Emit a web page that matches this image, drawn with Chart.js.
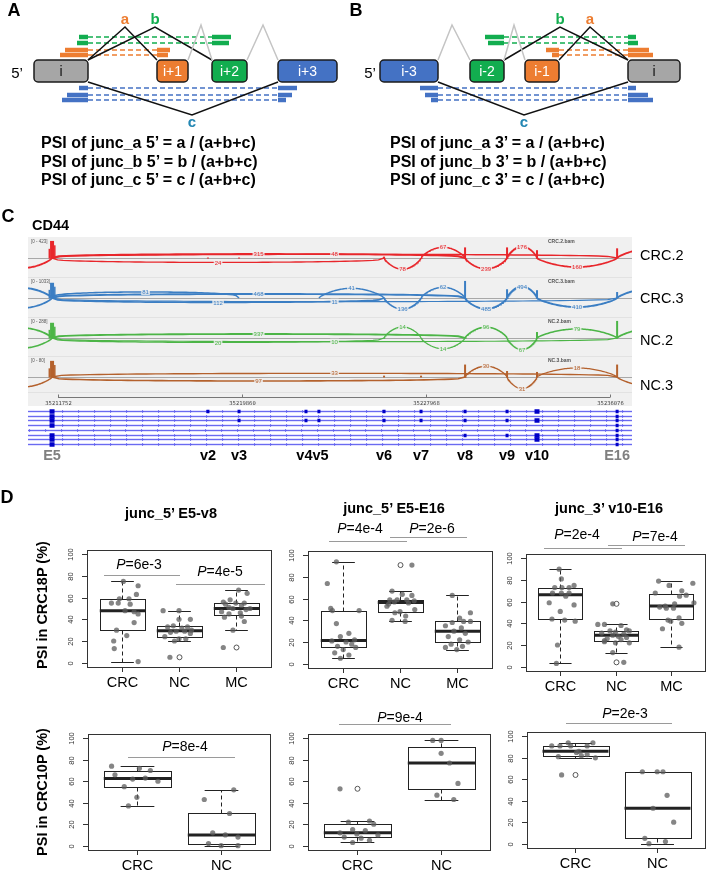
<!DOCTYPE html>
<html><head><meta charset="utf-8">
<script src="https://cdn.jsdelivr.net/npm/chart.js@4.4.1/dist/chart.umd.min.js"></script>
<style>
html,body{margin:0;padding:0;background:#fff}
body{width:709px;height:875px;position:relative;overflow:hidden;font-family:"Liberation Sans",Arial,Helvetica,sans-serif}
canvas{position:absolute;left:0;top:0}
.t{position:absolute;white-space:nowrap;transform:translate(-50%,-50%);line-height:1;color:#000}
.l{position:absolute;white-space:nowrap;transform:translate(0,-50%);line-height:1;color:#000}
.hl{position:absolute;height:0;border-top:1px solid #9a9a9a}
</style></head><body>
<script>
// ====================== DATA ======================
// ---- Panel D: boxplots (PSI %) ----
const CATS3 = ['CRC','NC','MC'];
const CATS2 = ['CRC','NC'];
const Y_TICKS = [0,20,40,60,80,100];

// junc_5' E5-v8, CRC18P
const v8_18_CRC = [75,71,63,59,59,55,55,54,48,47,45,37,30,25,20,13,1];
const v8_18_CRC_j = [0.02,0.28,0.25,-0.05,0.12,-0.19,-0.07,0.14,0.05,0.21,0.28,0.21,-0.1,0.08,-0.15,-0.14,0.28];
const v8_18_NC  = [48,48,40,40,34,33,33,32,30,29,29,28,27,24,22,22,20,5];
const v8_18_NC_j = [-0.28,0.0,0.0,0.2,-0.1,0.15,-0.2,0.05,0.22,-0.05,0.1,-0.15,0.2,-0.25,0.0,0.12,-0.08,-0.16];
const v8_18_MC  = [67,64,58,56,55,55,54,53,51,50,50,49,47,46,45,43,42,38,30,14];
const v8_18_MC_j = [0.05,0.2,-0.1,-0.22,0.15,0.0,-0.18,0.1,-0.12,0.25,-0.05,0.18,-0.25,0.08,-0.12,0.1,-0.2,0.15,-0.05,-0.22];

// junc_5' E5-E16, CRC18P
const e16_18_CRC = [94,74,51,49,49,37,28,25,22,21,20,18,16,15,13,10,8,5];
const e16_18_CRC_j = [-0.12,-0.28,-0.22,-0.19,0.28,-0.12,0.1,-0.05,0.2,-0.2,0.05,0.15,-0.1,0.22,0.0,-0.15,0.1,-0.05];
const e16_18_NC  = [91,67,64,63,59,59,59,58,57,56,55,53,50,48,47,44,40,39];
const e16_18_NC_j = [0.21,-0.14,0.04,0.21,0.12,-0.18,-0.05,0.25,-0.1,0.15,-0.2,-0.23,0.26,0.0,-0.09,0.1,-0.14,0.09];
const e16_18_MC  = [63,47,42,39,39,38,35,33,30,28,25,22,20,18,16,15,13];
const e16_18_MC_j = [-0.08,0.24,0.05,0.12,0.24,-0.08,-0.2,0.08,-0.05,0.15,-0.15,0.05,0.2,-0.1,0.1,-0.2,0.0];

// junc_3' v10-E16, CRC18P
const v10_18_CRC = [90,81,75,73,73,73,68,68,68,65,59,57,51,44,43,42,20,3];
const v10_18_CRC_j = [-0.02,0.02,0.25,-0.1,0.03,0.16,-0.14,0.02,0.16,0.1,-0.2,0.25,0.0,-0.15,0.08,0.27,-0.05,-0.07];
const v10_18_NC  = [58,39,39,38,34,33,33,32,31,30,29,28,27,26,25,24,23,22,22,13,4];
const v10_18_NC_j = [-0.05,-0.32,-0.2,0.1,0.2,-0.1,0.25,0.0,-0.25,0.15,-0.05,0.05,0.2,-0.15,0.1,-0.2,-0.2,0.0,0.25,-0.05,0.15];
const v10_18_MC  = [79,77,75,70,68,66,65,59,58,56,55,54,54,45,43,42,40,35,18];
const v10_18_MC_j = [-0.22,0.4,-0.03,0.2,-0.28,0.28,0.16,0.42,0.07,-0.1,-0.2,-0.08,0.05,0.15,-0.05,0.0,0.2,-0.15,0.15];

// CRC10P
const v8_10_CRC = [74,72,70,66,63,62,60,55,45,37];
const v8_10_CRC_j = [-0.3,0.03,0.16,-0.26,0.1,-0.05,0.25,-0.15,0.0,-0.1];
const v8_10_NC  = [52,43,30,12,10,8,2,0,0];
const v8_10_NC_j = [0.15,-0.2,0.1,-0.1,0.05,0.2,-0.15,0.0,0.2];

const e16_10_CRC = [53,23,22,20,15,14,12,11,10,8,7,5,3];
const e16_10_CRC_j = [-0.2,0.15,-0.1,0.2,-0.05,0.1,-0.2,0.0,0.25,-0.15,0.05,0.15,-0.05];
const e16_10_NC  = [98,98,86,77,58,47,43];
const e16_10_NC_j = [-0.1,0.0,0.0,0.1,0.2,-0.05,0.15];

const v10_10_CRC = [94,94,91,91,91,91,86,85,83,82,81,80,64];
const v10_10_CRC_j = [-0.08,0.22,-0.28,-0.18,0.15,-0.05,0.05,0.02,0.15,0.08,-0.2,0.25,-0.16];
const v10_10_NC  = [67,67,67,45,33,20,5,2,0];
const v10_10_NC_j = [-0.18,0.07,0.0,0.12,-0.05,0.2,-0.15,0.1,-0.1];

// ---- Panel C: CD44 sashimi ----
const EXON_NAMES = ['E5','v2','v3','v4','v5','v6','v7','v8','v9','v10','E16'];
const EXON_POS = {E4:35208900,E5:35211490,v2:35218360,v3:35219730,v4:35222680,v5:35223250,v6:35226120,v7:35227750,v8:35229690,v9:35231540,v10:35232860,E16:35236390,E17:35239500};
const RULER_TICKS = [35211752,35219860,35227968,35236076];
const TRACK_NAMES = ['CRC.2','CRC.3','NC.2','NC.3'];
const TRACK_RANGES = ['[0 - 423]','[0 - 1033]','[0 - 288]','[0 - 80]'];
// relative coverage at exons
const COV_CRC2 = {E5:0.95,v2:0.05,v3:0.05,v6:0.1,v8:0.6,v9:0.6,v10:0.45,E16:0.55};
const COV_CRC3 = {E5:0.85,v6:0.05,v8:0.95,v9:0.5,v10:0.45,E16:0.35};
const COV_NC2  = {E5:0.85,v6:0.05,v10:0.35,E16:0.95};
const COV_NC3  = {E5:0.9,v6:0.1,v7:0.1,v8:0.7,v9:0.35,v10:0.3,E16:0.7};
// junctions: [from, to, reads, side(+1 above / -1 below)]
const JUNC_CRC2 = [['E4','E5',300,-1],['E5','v8',315,1],['E5','E16',48,1],['E5','v6',24,-1],['v6','v7',78,-1],['v7','v8',67,1],['v8','v9',239,-1],['v9','v10',176,1],['v10','E16',160,-1],['E16','E17',300,1]];
const JUNC_CRC3 = [['E4','E5',600,1],['E4','E5',200,-1],['E5','v3',81,1],['E5','v8',468,1],['E5','v6',112,-1],['E5','E16',11,-1],['v5','v6',41,1],['v6','v7',136,-1],['v7','v8',62,1],['v8','v9',485,-1],['v9','v10',494,1],['v10','E16',410,-1],['E16','E17',600,1]];
const JUNC_NC2  = [['E4','E5',200,1],['E4','E5',100,-1],['E5','v8',337,1],['E5','v6',20,-1],['E5','E16',10,-1],['v6','v7',14,1],['v7','v8',14,-1],['v8','v9',96,1],['v9','v10',67,-1],['v10','E16',79,1],['E16','E17',200,1]];
const JUNC_NC3  = [['E4','E5',60,-1],['E5','v8',97,-1],['E5','E16',33,1],['v8','v9',30,1],['v9','v10',31,-1],['v10','E16',18,1],['E16','E17',60,-1]];
const TRANSCRIPTS = [
  ['E5','v2','v3','v4','v5','v6','v7','v8','v9','v10','E16'],
  ['E5','E16'],
  ['E5','v3','v4','v5','v6','v7','v8','v9','v10','E16'],
  ['E5','E16'],
  ['E16'],
  ['E5','v8','v9','v10','E16'],
  ['E5','v10','E16'],
  ['E5','E16']
];

// ====================== LAYOUT / STYLE ======================
const FONT = '"Liberation Sans", Arial, Helvetica, sans-serif';
const W = 709, H = 875;
const ORANGE='#ed7d31', GREEN='#12ad4f', BLUE='#4472c4', GRAY='#a6a6a6', TEAL='#2487b3';
const TRACK_COLORS = ['#e8262b','#3b7ec3','#4cb547','#b4612d'];
Chart.defaults.font.family = FONT;

function mkCanvas(){
  const c=document.createElement('canvas'); c.width=W; c.height=H;
  c.style.width=W+'px'; c.style.height=H+'px'; document.body.appendChild(c); return c.getContext('2d');
}
function txt(html,x,y,css,cls){
  const d=document.createElement('div'); d.className=cls||'t'; d.innerHTML=html;
  d.style.left=x+'px'; d.style.top=y+'px'; Object.assign(d.style,css||{}); document.body.appendChild(d); return d;
}
function hline(x0,x1,y){ const d=document.createElement('div'); d.className='hl'; d.style.left=x0+'px'; d.style.width=(x1-x0)+'px'; d.style.top=y+'px'; document.body.appendChild(d); }
function baseOpts(pad,xr,yr,rev){
  return {responsive:false,animation:false,events:[],devicePixelRatio:1,
    layout:{padding:pad},plugins:{legend:{display:false},tooltip:{enabled:false}},
    scales:{x:{type:'linear',display:false,min:xr[0],max:xr[1]},y:{type:'linear',display:false,min:yr[0],max:yr[1],reverse:!!rev}}};
}

// ====================== PANEL A / B ======================
const EXON_Y = [60,82];
const A_EXONS = [{name:'i',x0:34,x1:88,fill:GRAY,tc:'#111'},{name:'i+1',x0:157,x1:188,fill:ORANGE,tc:'#fff'},{name:'i+2',x0:212,x1:247,fill:GREEN,tc:'#fff'},{name:'i+3',x0:278,x1:337,fill:BLUE,tc:'#fff'}];
const B_EXONS = [{name:'i-3',x0:380,x1:438,fill:BLUE,tc:'#fff'},{name:'i-2',x0:470,x1:504,fill:GREEN,tc:'#fff'},{name:'i-1',x0:525,x1:559,fill:ORANGE,tc:'#fff'},{name:'i',x0:628,x1:680,fill:GRAY,tc:'#111'}];
const A_JUNC = [{f:0,t:1,ax:125,ay:27,lab:'a',c:ORANGE},{f:0,t:2,ax:155,ay:27,lab:'b',c:GREEN},{f:0,t:3,ax:192,ay:115,lab:'c',c:TEAL,low:true}];
const B_JUNC = [{f:1,t:3,ax:560,ay:27,lab:'b',c:GREEN},{f:2,t:3,ax:590,ay:27,lab:'a',c:ORANGE},{f:0,t:3,ax:524,ay:115,lab:'c',c:TEAL,low:true}];
const A_GRAYJ = [{f:1,t:2,ax:201,ay:25},{f:2,t:3,ax:263,ay:25}];
const B_GRAYJ = [{f:0,t:1,ax:452,ay:25},{f:1,t:2,ax:514,ay:25}];
const A_READS = [
  {c:GREEN,y:37,s:79,e:231,f:0,t:2},{c:GREEN,y:43,s:77,e:229,f:0,t:2},
  {c:ORANGE,y:50,s:65,e:170,f:0,t:1},{c:ORANGE,y:55,s:60,e:168,f:0,t:1},
  {c:BLUE,y:88,s:79,e:297,f:0,t:3},{c:BLUE,y:95,s:67,e:292,f:0,t:3},{c:BLUE,y:100,s:62,e:286,f:0,t:3}];
const B_READS = [
  {c:GREEN,y:37,s:485,e:636,f:1,t:3},{c:GREEN,y:43,s:488,e:638,f:1,t:3},
  {c:ORANGE,y:50,s:546,e:649,f:2,t:3},{c:ORANGE,y:55,s:552,e:653,f:2,t:3},
  {c:BLUE,y:88,s:420,e:636,f:0,t:3},{c:BLUE,y:95,s:425,e:648,f:0,t:3},{c:BLUE,y:100,s:431,e:653,f:0,t:3}];

function lineDS(pts,color,width,dash){
  return {data:pts.map(p=>({x:p[0],y:p[1]})),showLine:true,borderColor:color,borderWidth:width,borderDash:dash||[],
    pointRadius:0,fill:false,tension:0,borderCapStyle:'butt',borderJoinStyle:'miter'};
}
const abDS = [];
[[A_EXONS,A_JUNC,A_GRAYJ,A_READS],[B_EXONS,B_JUNC,B_GRAYJ,B_READS]].forEach(([ex,jn,gj,rd])=>{
  gj.forEach(j=>abDS.push(lineDS([[ex[j.f].x1,EXON_Y[0]],[j.ax,j.ay],[ex[j.t].x0,EXON_Y[0]]],'#c4c4c4',1.5)));
  jn.forEach(j=>{ const yy=j.low?EXON_Y[1]:EXON_Y[0];
    abDS.push(lineDS([[ex[j.f].x1,yy],[j.ax,j.ay],[ex[j.t].x0,yy]],'#111',1.5)); });
  rd.forEach(r=>{
    abDS.push(lineDS([[r.s,r.y],[ex[r.f].x1,r.y]],r.c,4.5));
    abDS.push(lineDS([[ex[r.f].x1,r.y],[ex[r.t].x0,r.y]],r.c,1.5,[5,3]));
    abDS.push(lineDS([[ex[r.t].x0,r.y],[r.e,r.y]],r.c,4.5));
  });
});
const exonPlugin = {id:'exons',afterDatasetsDraw(ch){
  const ctx=ch.ctx,X=ch.scales.x,Y=ch.scales.y;
  [...A_EXONS,...B_EXONS].forEach(e=>{
    const x0=X.getPixelForValue(e.x0),x1=X.getPixelForValue(e.x1),y0=Y.getPixelForValue(EXON_Y[0]),y1=Y.getPixelForValue(EXON_Y[1]);
    ctx.save(); ctx.beginPath(); ctx.roundRect(x0,y0,x1-x0,y1-y0,4); ctx.fillStyle=e.fill; ctx.fill();
    ctx.lineWidth=1.5; ctx.strokeStyle='#1b1b1b'; ctx.stroke();
    ctx.fillStyle=e.tc; ctx.font='14px '+FONT; ctx.textAlign='center'; ctx.textBaseline='middle';
    ctx.fillText(e.name,(x0+x1)/2,(y0+y1)/2+1); ctx.restore();
  });
  [[A_JUNC],[B_JUNC]].forEach(([jn])=>jn.forEach(j=>{
    ctx.save(); ctx.fillStyle=j.c; ctx.font='bold 15px '+FONT; ctx.textAlign='center'; ctx.textBaseline='middle';
    ctx.fillText(j.lab,X.getPixelForValue(j.ax),Y.getPixelForValue(j.low?j.ay+8:j.ay-7)); ctx.restore();
  }));
}};
new Chart(mkCanvas(),{type:'scatter',data:{datasets:abDS},
  options:baseOpts({left:0,top:0,right:0,bottom:H-195},[0,W],[0,195],true),plugins:[exonPlugin]});

txt('A',14,10,{font:'bold 18px '+FONT});
txt('B',356,10,{font:'bold 18px '+FONT});
txt('5’',17,72,{font:'15px '+FONT});
txt('5’',370,72,{font:'15px '+FONT});
['a','b','c'].forEach((k,i)=>{
  txt('PSI of junc_'+k+' 5’ = '+k+' / (a+b+c)',41,143+i*18.5,{font:'bold 16px '+FONT},'l');
  txt('PSI of junc_'+k+' 3’ = '+k+' / (a+b+c)',390,143+i*18.5,{font:'bold 16px '+FONT},'l');
});

// ====================== PANEL C ======================
const SASH_X0 = 28, SASH_X1 = 632;               // track extent (px)
const GX0 = 35210430, GX1 = 35237046;           // genomic window
const SASH_Y = [237,447];
const TRACK_BANDS = [[237,277],[277,317],[317,356],[356,392]];
const TRACK_BASE = [258,298,338,377];
const RULER_Y = 397, RULER_BOTTOM = 406;
const GENE_TOP = 411, GENE_STEP = 4.7;
const TRACK_COV = [COV_CRC2,COV_CRC3,COV_NC2,COV_NC3];
const TRACK_JUNC = [JUNC_CRC2,JUNC_CRC3,JUNC_NC2,JUNC_NC3];

function arcGeom(j){
  const g0=EXON_POS[j[0]],g1=EXON_POS[j[1]],span=g1-g0;
  const h=3.5+10*Math.exp(-span/6000), q=span>6000?0.28:0.75;
  return {g0,g1,h,q};
}
const sashDS=[];
TRACK_JUNC.forEach((list,ti)=>list.forEach(j=>{
  const {g0,g1,h,q}=arcGeom(j), base=TRACK_BASE[ti], pts=[];
  for(let k=0;k<=60;k++){ const t=k/60; pts.push([g0+(g1-g0)*t, base - j[3]*h*Math.pow(Math.sin(Math.PI*t),q)]); }
  sashDS.push(lineDS(pts,TRACK_COLORS[ti],0.7+0.45*Math.log10(j[2]+1)));
}));
const sashPlugin={id:'sash',
  beforeDatasetsDraw(ch){
    const ctx=ch.ctx,X=ch.scales.x,Y=ch.scales.y,a=ch.chartArea;
    ctx.save();
    const yt=Y.getPixelForValue(TRACK_BANDS[0][0]), yb=Y.getPixelForValue(RULER_BOTTOM);
    ctx.fillStyle='#f0f0f0'; ctx.fillRect(a.left,yt,a.right-a.left,yb-yt);
    ctx.strokeStyle='#e2e2e2'; ctx.lineWidth=1;
    TRACK_BANDS.forEach(b=>{ const y=Math.round(Y.getPixelForValue(b[1]))+0.5; ctx.beginPath(); ctx.moveTo(a.left,y); ctx.lineTo(a.right,y); ctx.stroke(); });
    TRACK_BASE.forEach((b,i)=>{
      const y=Math.round(Y.getPixelForValue(b))+0.5;
      ctx.strokeStyle='#a8a8a8'; ctx.beginPath(); ctx.moveTo(a.left,y); ctx.lineTo(a.right,y); ctx.stroke();
      const top=Y.getPixelForValue(TRACK_BANDS[i][0]+3), avail=y-top;
      ctx.fillStyle=TRACK_COLORS[i];
      Object.entries(TRACK_COV[i]).forEach(([ex,v])=>{
        const x=X.getPixelForValue(EXON_POS[ex]); const w=ex==='E5'?4:2;
        ctx.fillRect(x-w/2,y-v*avail,w,v*avail);
        if(ex==='E5'){ ctx.fillRect(x-w/2-1.5,y-v*avail*0.55,1.5,v*avail*0.55); ctx.fillRect(x+w/2,y-v*avail*0.75,1.5,v*avail*0.75); }
      });
    });
    ctx.restore();
  },
  afterDatasetsDraw(ch){
    const ctx=ch.ctx,X=ch.scales.x,Y=ch.scales.y,a=ch.chartArea;
    ctx.save();
    ctx.font='6px '+FONT; ctx.textAlign='center'; ctx.textBaseline='middle';
    TRACK_JUNC.forEach((list,ti)=>list.forEach(j=>{
      if(j[0]==='E4'||j[1]==='E17') return;
      const {g0,g1,h}=arcGeom(j); const x=X.getPixelForValue((g0+g1)/2), y=Y.getPixelForValue(TRACK_BASE[ti]-j[3]*h);
      ctx.fillStyle='rgba(240,240,240,0.85)'; const w=ctx.measureText(String(j[2])).width; ctx.fillRect(x-w/2-1,y-3,w+2,6);
      ctx.fillStyle=TRACK_COLORS[ti]; ctx.fillText(String(j[2]),x,y+0.5);
    }));
    ctx.font='4.5px '+FONT; ctx.textAlign='left'; ctx.fillStyle='#555';
    TRACK_BANDS.forEach((b,i)=>{
      ctx.fillText(TRACK_RANGES[i],a.left+3,Y.getPixelForValue(b[0]+5));
      ctx.font='bold 5px '+FONT; ctx.fillText(TRACK_NAMES[i]+'.bam',548,Y.getPixelForValue(b[0]+5)); ctx.font='4.5px '+FONT;
    });
    const ry=Math.round(Y.getPixelForValue(RULER_Y))+0.5;
    ctx.strokeStyle='#777'; ctx.lineWidth=1; ctx.beginPath();
    ctx.moveTo(X.getPixelForValue(RULER_TICKS[0]),ry); ctx.lineTo(X.getPixelForValue(RULER_TICKS[RULER_TICKS.length-1]),ry); ctx.stroke();
    ctx.font='5.5px "DejaVu Sans Mono", monospace'; ctx.fillStyle='#444'; ctx.textAlign='center';
    RULER_TICKS.forEach(t=>{ const x=Math.round(X.getPixelForValue(t))+0.5; ctx.beginPath(); ctx.moveTo(x,ry); ctx.lineTo(x,ry-3); ctx.stroke(); ctx.fillText(String(t),x,ry+6); });
    TRANSCRIPTS.forEach((tr,r)=>{
      const y=Math.round(Y.getPixelForValue(GENE_TOP+r*GENE_STEP))+0.5;
      ctx.strokeStyle='rgba(170,170,255,0.35)'; ctx.lineWidth=3; ctx.beginPath(); ctx.moveTo(a.left,y); ctx.lineTo(a.right,y); ctx.stroke();
      ctx.strokeStyle='#6a6af0'; ctx.lineWidth=1; ctx.beginPath(); ctx.moveTo(a.left,y); ctx.lineTo(a.right,y); ctx.stroke();
      ctx.strokeStyle='#5858ee'; ctx.lineWidth=0.8;
      for(let x=a.left+(r===4?2:35);x<a.right;x+=16){ ctx.beginPath(); ctx.moveTo(x-1,y-1.3); ctx.lineTo(x+0.6,y); ctx.lineTo(x-1,y+1.3); ctx.stroke(); }
      ctx.fillStyle='#0000c8';
      tr.forEach(ex=>{ const x=X.getPixelForValue(EXON_POS[ex]); const big=(ex==='E5'||ex==='v10'); const w=big?5:3, hh=big?4.5:3.5; ctx.fillRect(x-w/2,y-hh/2,w,hh); });
    });
    ctx.restore();
  }};
const sash = new Chart(mkCanvas(),{type:'scatter',data:{datasets:sashDS},
  options:baseOpts({left:SASH_X0,top:SASH_Y[0],right:W-SASH_X1,bottom:H-SASH_Y[1]},[GX0,GX1],SASH_Y,true),plugins:[sashPlugin]});

txt('C',8,216,{font:'bold 18px '+FONT});
txt('CD44',32,225,{font:'bold 14.5px '+FONT},'l');
[255,298,340,385].forEach((y,i)=>txt(TRACK_NAMES[i],640,y,{font:'14.5px '+FONT},'l'));
{
  const X=sash.scales.x; const lab=[];
  EXON_NAMES.forEach(n=>{ if(n==='v4'||n==='v5') return; lab.push([n,X.getPixelForValue(EXON_POS[n])]); });
  lab.push(['v4v5',X.getPixelForValue((EXON_POS.v4+EXON_POS.v5)/2)]);
  lab.forEach(([n,x])=>txt(n,x,455,{font:'bold 14.5px '+FONT,color:(n==='E5'||n==='E16')?'#808080':'#000'}));
}

// ====================== PANEL D ======================
function fivenum(a){ const x=[...a].sort((p,q)=>p-q),n=x.length; const n4=Math.floor((n+3)/2)/2;
  return [1,n4,(n+1)/2,n+1-n4,n].map(d=>0.5*(x[Math.floor(d)-1]+x[Math.ceil(d)-1])); }
function boxStats(a){ const f=fivenum(a),iqr=f[3]-f[1],lo=f[1]-1.5*iqr,hi=f[3]+1.5*iqr;
  const ins=a.filter(v=>v>=lo&&v<=hi);
  return {q1:f[1],med:f[2],q3:f[3],wlo:Math.min(...ins),whi:Math.max(...ins),out:a.filter(v=>v<lo||v>hi)}; }

function rbox(cfg,stats){ return {id:'rbox',
  beforeDatasetsDraw(ch){
    const ctx=ch.ctx,X=ch.scales.x,Y=ch.scales.y; const py=v=>Math.round(Y.getPixelForValue(v))+0.5;
    ctx.save();
    stats.forEach((s,i)=>{
      const cx=Math.round(X.getPixelForValue(i+1))+0.5, hw=X.getPixelForValue(i+1.4)-X.getPixelForValue(i+1), cw=hw/2;
      ctx.strokeStyle='#222'; ctx.lineWidth=1;
      ctx.setLineDash([4,3]); ctx.beginPath();
      ctx.moveTo(cx,py(s.q3)); ctx.lineTo(cx,py(s.whi)); ctx.moveTo(cx,py(s.q1)); ctx.lineTo(cx,py(s.wlo)); ctx.stroke();
      ctx.setLineDash([]); ctx.beginPath();
      ctx.moveTo(cx-cw,py(s.whi)); ctx.lineTo(cx+cw,py(s.whi)); ctx.moveTo(cx-cw,py(s.wlo)); ctx.lineTo(cx+cw,py(s.wlo)); ctx.stroke();
      ctx.fillStyle='#fff'; ctx.fillRect(cx-hw,py(s.q3),2*hw,py(s.q1)-py(s.q3));
      ctx.strokeRect(Math.round(cx-hw)+0.5,py(s.q3),Math.round(2*hw),py(s.q1)-py(s.q3));
      ctx.lineWidth=3; ctx.beginPath(); ctx.moveTo(cx-hw,Y.getPixelForValue(s.med)); ctx.lineTo(cx+hw,Y.getPixelForValue(s.med)); ctx.stroke();
      ctx.lineWidth=1; ctx.strokeStyle='#555';
      s.out.forEach(v=>{ ctx.beginPath(); ctx.arc(cx,Y.getPixelForValue(v),2.5,0,Math.PI*2); ctx.stroke(); });
    });
    ctx.restore();
  },
  afterDraw(ch){
    const ctx=ch.ctx,X=ch.scales.x,Y=ch.scales.y,a=ch.chartArea;
    ctx.save(); ctx.strokeStyle='#333'; ctx.lineWidth=1;
    ctx.strokeRect(Math.round(a.left)+0.5,Math.round(a.top)+0.5,Math.round(a.right-a.left),Math.round(a.bottom-a.top));
    ctx.fillStyle='#333'; ctx.font='7.5px '+FONT; ctx.textAlign='center'; ctx.textBaseline='middle';
    Y_TICKS.forEach(t=>{ const y=Math.round(Y.getPixelForValue(t))+0.5; ctx.beginPath(); ctx.moveTo(a.left,y); ctx.lineTo(a.left-5,y); ctx.stroke();
      ctx.save(); ctx.translate(a.left-16,y); ctx.rotate(-Math.PI/2); ctx.fillText(String(t),0,0); ctx.restore(); });
    ctx.fillStyle='#000'; ctx.font='14.5px '+FONT;
    cfg.groups.forEach((g,i)=>{ const x=Math.round(X.getPixelForValue(i+1))+0.5; ctx.beginPath(); ctx.moveTo(x,a.bottom); ctx.lineTo(x,a.bottom+5); ctx.stroke();
      ctx.fillText(g,x,a.bottom+16); });
    ctx.restore();
  }}; }

function boxChart(cfg){
  const n=cfg.groups.length, stats=cfg.values.map(boxStats);
  const ds=cfg.values.map((vals,i)=>({data:vals.map((v,k)=>({x:i+1+cfg.jitter[i][k],y:v})),showLine:false,
    pointRadius:2.6,pointBackgroundColor:'rgba(92,92,92,0.75)',pointBorderWidth:0}));
  const [x0,y0,x1,y1]=cfg.plot;
  const o=baseOpts({left:x0,top:y0,right:W-x1,bottom:H-y1},[0.5-0.04*n,n+0.5+0.04*n],[-4,104]);
  return new Chart(mkCanvas(),{type:'scatter',data:{datasets:ds},options:o,plugins:[rbox(cfg,stats)]});
}

boxChart({plot:[87,550,271,667],groups:CATS3,values:[v8_18_CRC,v8_18_NC,v8_18_MC],jitter:[v8_18_CRC_j,v8_18_NC_j,v8_18_MC_j]});
boxChart({plot:[308,551,492,668],groups:CATS3,values:[e16_18_CRC,e16_18_NC,e16_18_MC],jitter:[e16_18_CRC_j,e16_18_NC_j,e16_18_MC_j]});
boxChart({plot:[526,554,710,671],groups:CATS3,values:[v10_18_CRC,v10_18_NC,v10_18_MC],jitter:[v10_18_CRC_j,v10_18_NC_j,v10_18_MC_j]});
boxChart({plot:[88,734,270,850],groups:CATS2,values:[v8_10_CRC,v8_10_NC],jitter:[v8_10_CRC_j,v8_10_NC_j]});
boxChart({plot:[308,734,490,850],groups:CATS2,values:[e16_10_CRC,e16_10_NC],jitter:[e16_10_CRC_j,e16_10_NC_j]});
boxChart({plot:[527,732,709,848],groups:CATS2,values:[v10_10_CRC,v10_10_NC],jitter:[v10_10_CRC_j,v10_10_NC_j]});

txt('D',7,497,{font:'bold 18px '+FONT});
const TF={font:'bold 14.5px '+FONT}, PF={font:'14px '+FONT};
txt('junc_5’ E5-v8',171,513,TF);
txt('junc_5’ E5-E16',394,508,TF);
txt('junc_3’ v10-E16',609,508,TF);
txt('PSI in CRC18P (%)',42,605,{font:'bold 14.5px '+FONT,transform:'translate(-50%,-50%) rotate(-90deg)'});
txt('PSI in CRC10P (%)',42,792,{font:'bold 14.5px '+FONT,transform:'translate(-50%,-50%) rotate(-90deg)'});
const P_LABELS=[['6e-3',139,564,104,180,575],['4e-5',220,571,176,265,584],['4e-4',360,528,329,407,541],['2e-6',432,528,390,467,537],
  ['2e-4',577,534,544,622,548],['7e-4',655,536,608,685,545],['8e-4',185,746,128,235,757],['9e-4',400,717,339,451,724],['2e-3',625,713,566,672,723]];
P_LABELS.forEach(([p,x,y,l0,l1,ly])=>{ txt('<i>P</i>='+p,x,y,PF); hline(l0,l1,ly); });
</script></body></html>
